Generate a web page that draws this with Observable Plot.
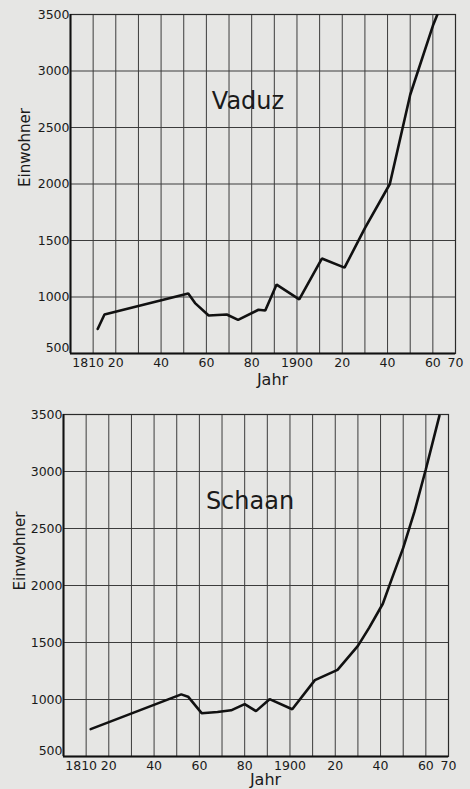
<!DOCTYPE html>
<html>
<head>
<meta charset="utf-8">
<script src="https://cdn.jsdelivr.net/npm/d3@7"></script>
<script src="https://cdn.jsdelivr.net/npm/@observablehq/plot@0.6"></script>
<style>
  html, body { margin: 0; padding: 0; background: #e6e6e4; }
  svg { display: block; }
</style>
</head>
<body>
<div id="chart"></div>
<script>
// --- Data ---
const vaduzYears = [1812, 1815, 1852, 1855, 1861, 1869, 1874, 1883, 1886, 1891, 1901, 1911, 1921, 1930, 1941, 1950, 1960, 1962];
const vaduzPop   = [ 717,  845, 1030,  946,  836,  845,  798,  887,  880, 1110,  979, 1340, 1260, 1610, 2000, 2790, 3400, 3500];

const schaanYears = [1812, 1852, 1855, 1861, 1868, 1874, 1880, 1885, 1891, 1901, 1911, 1921, 1930, 1935, 1941, 1945, 1950, 1955, 1960, 1966];
const schaanPop   = [ 740, 1045, 1025,  880,  890,  905,  960,  898, 1003,  915, 1170, 1260, 1470, 1630, 1840, 2060, 2330, 2650, 3020, 3490];

const gridYears   = [1800, 1810, 1820, 1830, 1840, 1850, 1860, 1870, 1880, 1890, 1900, 1910, 1920, 1930, 1940, 1950, 1960, 1970];
const xTickYears  = [1810, 1820, 1840, 1860, 1880, 1900, 1920, 1940, 1960, 1970];
const xTickLabels = ["1810", "20", "40", "60", "80", "1900", "20", "40", "60", "70"];
const yTicks      = [500, 1000, 1500, 2000, 2500, 3000, 3500];
const xTitle = "Jahr";
const yTitle = "Einwohner";

const FONT = "'DejaVu Sans', 'Noto Sans', sans-serif";
const INK = "#1a1a1a";

function panel(title, years, pops, m) {
  const data = years.map((y, i) => ({year: y, pop: pops[i]}));
  const labelOf = d => xTickLabels[xTickYears.indexOf(d)];
  const xAxis = {tickSize: 0, tickPadding: 5, tickFormat: labelOf, fontSize: 12.5, label: null};
  const yAxis = {tickSize: 0, tickPadding: 1, tickFormat: d3.format("d"), fontSize: 12.5, label: null};
  return Plot.plot({
    width: 470,
    height: m.height,
    marginTop: m.top,
    marginBottom: m.bottom,
    marginLeft: m.left,
    marginRight: m.right,
    style: {background: "transparent", fontFamily: FONT, fontSize: "12px", color: INK},
    x: {domain: [1800, 1970]},
    y: {domain: [500, 3500]},
    marks: [
      Plot.ruleX(gridYears, {stroke: "#3c3c3c", strokeWidth: 1}),
      Plot.ruleY(yTicks, {stroke: "#3c3c3c", strokeWidth: 1}),
      Plot.frame({stroke: "#2a2a2a", strokeWidth: 1.2}),
      Plot.ruleX([1800], {stroke: "#111", strokeWidth: 2}),
      Plot.ruleY([500], {stroke: "#111", strokeWidth: 2}),
      Plot.line(data, {x: "year", y: "pop", stroke: "#111", strokeWidth: 2.6, strokeLinejoin: "miter", clip: true}),
      Plot.text([title], {frameAnchor: "top", lineAnchor: "middle", dx: m.titleDx, dy: 87, fontSize: 24, fill: INK}),
      Plot.axisX(xTickYears.slice(0, 1), {...xAxis, dx: -5}),
      Plot.axisX(xTickYears.slice(1), xAxis),
      Plot.axisY(yTicks.slice(0, 1), {...yAxis, dy: -6}),
      Plot.axisY(yTicks.slice(1), yAxis),
      Plot.text([xTitle], {frameAnchor: "bottom", lineAnchor: "middle", dx: 9.5, dy: m.xLabelDy, fontSize: 16, fill: INK}),
      Plot.text([yTitle], {frameAnchor: "left", lineAnchor: "middle", rotate: -90, dx: m.yLabelDx, dy: m.yLabelDy, fontSize: 15, fill: INK})
    ]
  });
}

const root = document.getElementById("chart");
root.append(panel("Vaduz", vaduzYears, vaduzPop,
  {height: 395, top: 14, bottom: 42, left: 70, right: 15, titleDx: -15, xLabelDy: 26, yLabelDx: -45, yLabelDy: 3}));
root.append(panel("Schaan", schaanYears, schaanPop,
  {height: 394, top: 19, bottom: 33, left: 63, right: 22, titleDx: -6, xLabelDy: 23, yLabelDx: -43, yLabelDy: 5}));
</script>
</body>
</html>
